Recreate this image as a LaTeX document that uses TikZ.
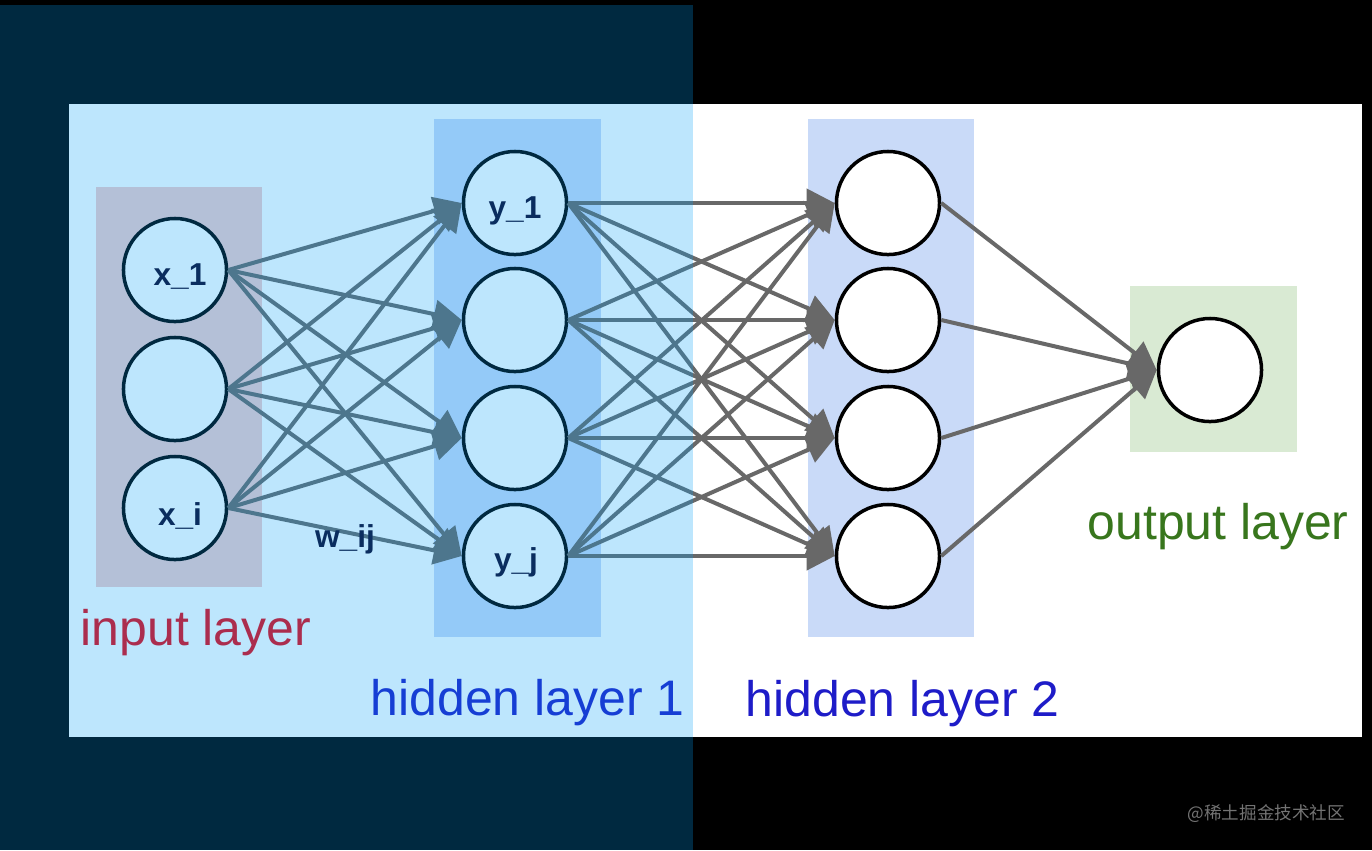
\documentclass[tikz,border=0pt]{standalone}
\usepackage{fontspec}
\setmainfont{Liberation Sans}
\newfontfamily\cjk{Noto Sans CJK SC}
\usepackage{tikz}
\usetikzlibrary{arrows.meta}
\definecolor{VeloAzul}{RGB}{0,160,250}
\definecolor{GrisFlecha}{RGB}{104,104,104}
\definecolor{CajaEntrada}{RGB}{244,204,204}
\definecolor{CajaOculta}{RGB}{201,218,248}
\definecolor{CajaSalida}{RGB}{217,234,211}
\definecolor{RojoEntrada}{RGB}{232,6,18}
\definecolor{AzulOculta}{RGB}{30,28,200}
\definecolor{VerdeSalida}{RGB}{56,118,29}
\definecolor{AzulMarino}{RGB}{10,45,95}
\definecolor{GrisMarca}{RGB}{115,115,115}

\begin{document}
\begin{tikzpicture}[x=0.01cm,y=-0.01cm,>={Triangle[length=0.28cm,width=0.28cm]},
  neurona/.style={circle,draw=black,line width=0.035cm,fill=white,minimum size=1.03cm,inner sep=0pt},
  enlace/.style={->,GrisFlecha,line width=0.04cm},
  capa/.style={font=\fontsize{14.2}{17}\selectfont,inner sep=0pt,anchor=base west},
  rotulo/.style={AzulMarino,font=\fontsize{9}{10}\selectfont\bfseries,inner sep=0pt,anchor=base}]
  \useasboundingbox (0,0) rectangle (1372,850);
  \fill[black] (0,0) rectangle (1372,850);
  \fill[white] (69,104) rectangle (1362,737);
  % cajas de las capas
  \fill[CajaEntrada] (96,187) rectangle (262,587);
  \fill[CajaOculta] (434,119) rectangle (601,637);
  \fill[CajaOculta] (808,119) rectangle (974,637);
  \fill[CajaSalida] (1130,286) rectangle (1297,452);
  % neuronas
  \foreach \n/\y in {1/270,2/389,3/508} \node[neurona] (x\n) at (175,\y) {};
  \foreach \n/\y in {1/203,2/320,3/438,4/556} {
    \node[neurona] (y\n) at (515,\y) {};
    \node[neurona] (z\n) at (888,\y) {};
  }
  \node[neurona] (s) at (1210,370) {};
  % conexiones
  \foreach \i in {1,2,3} \foreach \j in {1,...,4} \draw[enlace] (x\i.east) -- (y\j.west);
  \foreach \i in {1,...,4} \foreach \j in {1,...,4} \draw[enlace] (y\i.east) -- (z\j.west);
  \foreach \j in {1,...,4} \draw[enlace] (z\j.east) -- (s.west);
  % nombres de las capas
  \node[capa,RojoEntrada] (tEntrada) at (80,645) {input layer};
  \node[capa,AzulOculta] (tOculta1) at (370,715) {hidden layer 1};
  \node[capa,AzulOculta] (tOculta2) at (745,716) {hidden layer 2};
  \node[capa,VerdeSalida] (tSalida) at (1087,539) {output layer};
  % velo azul sobre la mitad izquierda
  \fill[VeloAzul,opacity=0.26] (0,5) rectangle (693,850);
  \node[rotulo] (lx1) at (180,285) {x\_1};
  \node[rotulo] (lxi) at (180,525) {x\_i};
  \node[rotulo] (ly1) at (515,218) {y\_1};
  \node[rotulo] (lyj) at (516,570) {y\_j};
  \node[rotulo] (lw) at (345,547) {w\_ij};
  \node[GrisMarca,font=\cjk\fontsize{5}{6}\selectfont,anchor=west,inner sep=0pt] (marca) at (1187,814) {@稀土掘金技术社区};
\end{tikzpicture}
\end{document}
